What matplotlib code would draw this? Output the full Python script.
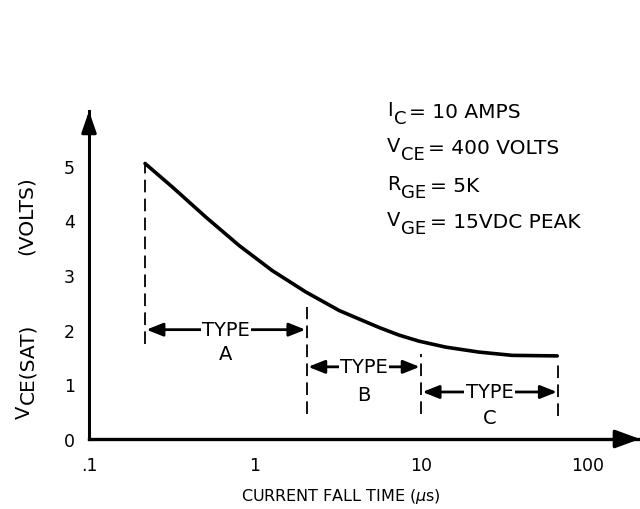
import matplotlib
matplotlib.use("Agg")
import matplotlib.pyplot as plt
from matplotlib.transforms import IdentityTransform
import numpy as np

plt.rcParams['font.family'] = ['DejaVu Sans']
plt.rcParams['mathtext.fontset'] = 'dejavusans'

# Curve data
fall_time = [0.2175, 0.3175, 0.505, 0.801, 1.27, 2.02, 3.21, 5.58, 7.37,
             9.7, 14.1, 22.3, 35.3, 66]
vce_sat = [5.04, 4.61, 4.06, 3.54, 3.08, 2.69, 2.35, 2.04, 1.90,
           1.79, 1.68, 1.59, 1.53, 1.52]

# Type regions
boundaries = [0.2175, 2.05, 10, 67]
type_names = ["A", "B", "C"]
arrow_levels = [2.0, 1.32, 0.86]
letter_levels = [1.56, 0.82, 0.40]
dash_tops = [5.04, 2.42, 1.56, 1.43]
dash_bottoms = [1.74, 0.46, 0.46, 0.42]

xticks = [0.1, 1, 10, 100]
xticklabels = [".1", "1", "10", "100"]
yticks = [0, 1, 2, 3, 4, 5]

cond_main = ["I", "V", "R", "V"]
cond_sub = ["C", "CE", "GE", "GE"]
cond_rest = ["= 10 AMPS", "= 400 VOLTS", "= 5K", "= 15VDC PEAK"]

W, H = 640, 510
fig = plt.figure(figsize=(6.4, 5.1), dpi=100)
ax = fig.add_axes([89 / W, 70 / H, 551 / W, 328 / H])
ax.set_xscale('log')
ax.set_xlim(0.1, 208)
ax.set_ylim(0, 6)

for s in ['top', 'right']:
    ax.spines[s].set_visible(False)
ax.spines['left'].set_linewidth(2.2)
ax.spines['bottom'].set_linewidth(2.4)

ax.set_xticks(xticks)
ax.set_xticklabels(xticklabels)
ax.xaxis.set_minor_locator(matplotlib.ticker.NullLocator())
ax.set_yticks(yticks)
ax.tick_params(axis='both', length=0, labelsize=12.5)
ax.tick_params(axis='x', pad=12)
ax.tick_params(axis='y', pad=10)

# axis arrow heads
ax.annotate('', xy=(1.0, 0), xytext=(0.96, 0), xycoords='axes fraction',
            arrowprops=dict(arrowstyle='-|>,head_length=1.5,head_width=0.55',
                            color='black', lw=2.4, shrinkA=0, shrinkB=0),
            annotation_clip=False)
ax.annotate('', xy=(0, 1.0), xytext=(0, 0.95), xycoords='axes fraction',
            arrowprops=dict(arrowstyle='-|>,head_length=1.3,head_width=0.45',
                            color='black', lw=2.2, shrinkA=0, shrinkB=0),
            annotation_clip=False)

# main curve
ax.plot(fall_time, vce_sat, color='black', lw=2.6, solid_capstyle='round',
        solid_joinstyle='round')

# dashed boundaries
for xb, top, bot in zip(boundaries, dash_tops, dash_bottoms):
    ax.plot([xb, xb], [bot, top], color='black', lw=1.3, ls=(0, (7, 3.5)))

# type arrows
for i, name in enumerate(type_names):
    x0, x1 = boundaries[i], boundaries[i + 1]
    xm = np.sqrt(x0 * x1)
    ya = arrow_levels[i]
    ax.annotate('', xy=(x0, ya), xytext=(x1, ya),
                arrowprops=dict(arrowstyle='<|-|>,head_length=1.0,head_width=0.4',
                                color='black', lw=2.0, shrinkA=1, shrinkB=1))
    ax.text(xm, ya, "TYPE", ha='center', va='center', fontsize=14,
            bbox=dict(facecolor='white', edgecolor='none', pad=1.0))
    ax.text(xm, letter_levels[i], name, ha='center', va='center', fontsize=14)

# conditions block with full-size subscripts
renderer = fig.canvas.get_renderer()
idt = IdentityTransform()
x_start = 387
baselines = [118, 154, 192, 228]
for m, sb, rest, yb in zip(cond_main, cond_sub, cond_rest, baselines):
    t1 = fig.text(x_start, H - yb + 2, m, transform=idt, fontsize=14,
                  ha='left', va='baseline')
    w1 = t1.get_window_extent(renderer).width
    t2 = fig.text(x_start + w1 + 1, H - yb - 6, sb, transform=idt,
                  fontsize=13, ha='left', va='baseline')
    w2 = t2.get_window_extent(renderer).width
    fig.text(x_start + w1 + w2 + 4, H - yb, rest, transform=idt,
             fontsize=14.5, ha='left', va='baseline')

# x label
fig.text(341 / W, 1 - 497 / H, r"CURRENT FALL TIME ($\mu$s)", ha='center',
         va='center', fontsize=11.5)

# y label pieces
tv = fig.text(24, H - 412, "V", transform=idt, rotation=90, fontsize=14,
              ha='center', va='center')
hv = tv.get_window_extent(renderer).height
fig.text(28, H - 412 + hv / 2 + 1, "CE(SAT)", transform=idt, rotation=90,
         fontsize=14.5, ha='center', va='bottom')
fig.text(26, H - 216, "(VOLTS)", transform=idt, rotation=90, fontsize=14.5,
         ha='center', va='center')

fig.savefig("out.png", dpi=100)
